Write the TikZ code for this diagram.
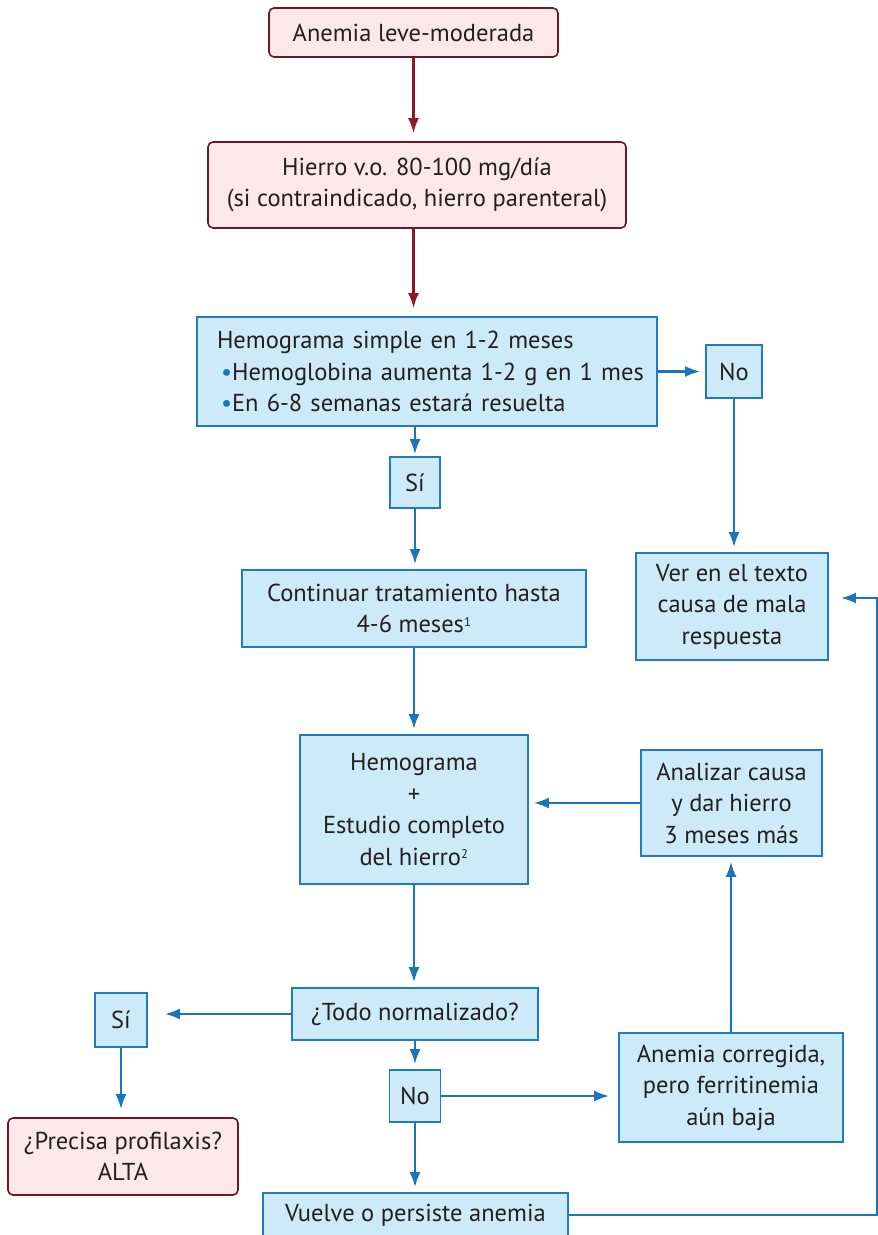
\documentclass[tikz,border=0pt]{standalone}
\usepackage{fontspec}
\setmainfont{PT Sans}
\usetikzlibrary{arrows.meta}

\definecolor{redborder}{HTML}{6B1A24}
\definecolor{redfill}{HTML}{FCE8EA}
\definecolor{redline}{HTML}{8B1A24}
\definecolor{blueborder}{HTML}{1F7CC1}
\definecolor{bluefill}{HTML}{CDEAF9}
\definecolor{blueline}{HTML}{1A75BC}
\definecolor{textcol}{HTML}{231F20}

\tikzset{
  redbox/.style={draw=redborder, fill=redfill, rounded corners=5pt, line width=1.6pt, align=center, inner sep=0pt},
  bluebox/.style={draw=blueborder, fill=bluefill, line width=1.6pt, align=center, inner sep=0pt},
  redarrow/.style={draw=redline, line width=2.4pt, -{Latex[length=15pt,width=11pt]}, shorten >=8pt},
  bluearrow/.style={draw=blueline, line width=2.4pt, -{Latex[length=15pt,width=11pt]}, shorten >=5pt},
}

\begin{document}
\begin{tikzpicture}[x=1pt,y=-1pt,
    every node/.style={font=\fontsize{24.5}{31.5}\selectfont, text=textcol}]
        \useasboundingbox (0,0) rectangle (878,1235);

        \node[redbox, minimum width=289, minimum height=49] (A) at (413.5,32.5) {Anemia leve-moderada};
        \node[redbox, minimum width=418, minimum height=86] (H) at (417,185) {Hierro v.o. 80-100 mg/día\\(si contraindicado, hierro parenteral)};
        \node[bluebox, text width=450, align=left, inner xsep=5pt, minimum height=109] (HS) at (427,371.5)
            {\hspace*{15pt}Hemograma simple en 1-2 meses\\
             \hspace*{19pt}{\color{blueline}\textbullet}Hemoglobina aumenta 1-2 g en 1 mes\\
             \hspace*{19pt}{\color{blueline}\textbullet}En 6-8 semanas estará resuelta};
        \node[bluebox, minimum width=56, minimum height=53] (No1) at (734,371.5) {No};
        \node[bluebox, minimum width=50, minimum height=51] (Si1) at (415,482.5) {Sí};
        \node[bluebox, minimum width=344, minimum height=77] (C) at (414,608.5) {Continuar tratamiento hasta\\4-6 meses{\fontsize{18}{18}\selectfont\textsuperscript{1}}};
        \node[bluebox, minimum width=192, minimum height=107] (V) at (732,606.5) {Ver en el texto\\causa de mala\\respuesta};
        \node[bluebox, minimum width=228, minimum height=149] (HE) at (414,809.5) {Hemograma\\+\\Estudio completo\\del hierro{\fontsize{18}{18}\selectfont\textsuperscript{2}}};
        \node[bluebox, minimum width=181, minimum height=106] (AC) at (731.5,803) {Analizar causa\\y dar hierro\\3 meses más};
        \node[bluebox, minimum width=246, minimum height=52] (T) at (415,1014) {¿Todo normalizado?};
        \node[bluebox, minimum width=52, minimum height=54] (Si2) at (121,1020) {Sí};
        \node[redbox, minimum width=230, minimum height=77] (P) at (123,1156.5) {¿Precisa profilaxis?\\ALTA};
        \node[bluebox, minimum width=51, minimum height=52] (No2) at (415,1096) {No};
        \node[bluebox, minimum width=224, minimum height=109] (ACo) at (731,1087.5) {Anemia corregida,\\pero ferritinemia\\aún baja};
        \node[bluebox, minimum width=305, minimum height=44] (VP) at (415.5,1215) {Vuelve o persiste anemia};
        \coordinate (R) at (877,598);

        \draw[redarrow] (A) -- (A |- H.north);
        \draw[redarrow] (A |- H.south) -- (A |- HS.north);
        \draw[bluearrow] (HS.east |- No1) -- (No1);
        \draw[bluearrow, shorten >=2pt] (Si1 |- HS.south) -- (Si1);
        \draw[bluearrow] (Si1) -- (Si1 |- C.north);
        \draw[bluearrow] (No1) -- (No1 |- V.north);
        \draw[bluearrow] (C) -- (HE);
        \draw[bluearrow] (AC) -- (AC -| HE.east);
        \draw[bluearrow] (HE) -- (HE |- T.north);
        \draw[bluearrow, shorten >=17pt] (T) -- (T -| Si2.east);
        \draw[bluearrow, shorten >=8pt] (Si2) -- (Si2 |- P.north);
        \draw[bluearrow] (T) -- (No2);
        \draw[bluearrow, shorten >=9pt] (No2) -- (No2 -| ACo.west);
        \draw[bluearrow] (ACo) -- (ACo |- AC.south);
        \draw[bluearrow] (No2) -- (No2 |- VP.north);
        \draw[bluearrow, shorten >=12pt] (VP.east) -| (R) -- (R -| V.east);
\end{tikzpicture}
\end{document}
